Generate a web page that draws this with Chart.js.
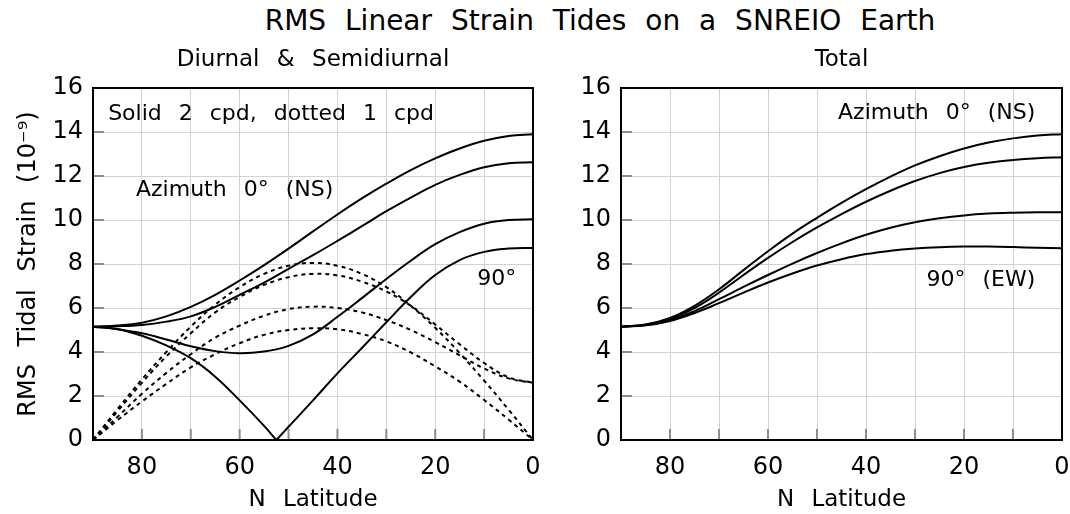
<!DOCTYPE html>
<html>
<head>
<meta charset="utf-8">
<script src="https://cdn.jsdelivr.net/npm/chart.js@4"></script>
<style>
  body { margin: 0; background: #fff; }
  #wrap { position: relative; width: 1070px; height: 514px; overflow: hidden; }
  #title { position: absolute; top: 4px; left: 130px; width: 940px; text-align: center;
           font-family: "DejaVu Sans"; font-size: 28px; word-spacing: 10px; color: #000; }
  canvas { position: absolute; top: 0; }
</style>
</head>
<body>
<div id="wrap">
  <div id="title">RMS Linear Strain Tides on a SNREIO Earth</div>
  <canvas id="left" width="560" height="514" style="left:0"></canvas>
  <canvas id="right" width="510" height="514" style="left:560px"></canvas>
</div>
<script>
// latitude grid (deg N)
const lat = [90, 85, 80, 75, 70, 65, 60, 55, 50, 45, 40, 35, 30, 25, 20, 15, 10, 5, 0];
const latV = [90, 85, 80, 75, 70, 65, 60, 55, 52.5, 50, 45, 40, 35, 30, 25, 20, 15, 10, 5, 0];

// semidiurnal (2 cpd), solid
const semi0 = [5.15, 5.2, 5.33, 5.62, 6.05, 6.6, 7.25, 7.95, 8.7, 9.48, 10.25, 10.98, 11.65, 12.27, 12.8, 13.25, 13.6, 13.82, 13.9];
const semi30 = [5.15, 5.17, 5.23, 5.38, 5.62, 6.05, 6.6, 7.15, 7.78, 8.4, 9.05, 9.72, 10.4, 11.02, 11.6, 12.05, 12.4, 12.58, 12.62];
const semi60 = [5.15, 5.03, 4.85, 4.57, 4.26, 4.04, 3.94, 4.02, 4.28, 4.8, 5.6, 6.45, 7.32, 8.15, 8.9, 9.45, 9.83, 10.0, 10.03];
const semi90 = [5.15, 5.05, 4.74, 4.3, 3.72, 2.88, 1.8, 0.64, 0, 0.6, 1.8, 3.03, 4.18, 5.35, 6.5, 7.5, 8.18, 8.55, 8.7, 8.73];

// diurnal (1 cpd), dotted
const diur90 = [0, 1.4, 2.75, 4.0, 5.15, 6.15, 6.95, 7.55, 7.92, 8.05, 7.92, 7.55, 6.95, 6.1, 5.1, 3.95, 2.7, 1.38, 0];
const diur60 = [0, 1.3, 2.6, 3.8, 4.85, 5.8, 6.5, 7.05, 7.4, 7.55, 7.48, 7.2, 6.75, 6.1, 5.25, 4.35, 3.5, 2.85, 2.6];
const diur30 = [0, 1.05, 2.1, 3.05, 3.9, 4.65, 5.2, 5.65, 5.95, 6.06, 6.0, 5.8, 5.45, 5.0, 4.45, 3.85, 3.25, 2.8, 2.6];
const diur0 = [0, 0.9, 1.75, 2.55, 3.3, 3.9, 4.4, 4.78, 5.0, 5.08, 5.03, 4.82, 4.48, 3.98, 3.35, 2.65, 1.82, 0.93, 0];

// total
const total0 = [5.15, 5.25, 5.55, 6.1, 6.85, 7.72, 8.58, 9.38, 10.1, 10.78, 11.4, 11.97, 12.48, 12.9, 13.25, 13.52, 13.71, 13.84, 13.9];
const total30 = [5.15, 5.24, 5.5, 6.0, 6.7, 7.5, 8.28, 9.0, 9.66, 10.27, 10.83, 11.33, 11.77, 12.13, 12.41, 12.6, 12.73, 12.81, 12.85];
const total60 = [5.15, 5.22, 5.44, 5.86, 6.4, 6.96, 7.5, 8.02, 8.5, 8.94, 9.33, 9.65, 9.9, 10.08, 10.21, 10.29, 10.33, 10.35, 10.35];
const total90 = [5.15, 5.21, 5.41, 5.77, 6.22, 6.7, 7.16, 7.57, 7.93, 8.22, 8.45, 8.6, 8.7, 8.76, 8.79, 8.79, 8.77, 8.74, 8.72];

const FONT = "DejaVu Sans";

function pts(xs, ys) {
  return xs.map((x, i) => ({ x: x, y: ys[i] }));
}

function line(data, dotted) {
  return {
    data: data,
    borderColor: "#000",
    borderWidth: 2,
    borderDash: dotted ? [4, 4] : [],
    pointRadius: 0,
    fill: false,
    tension: 0.4,
  };
}

// the 90 deg semidiurnal curve has a sharp zero; draw its two branches separately
const vIdx = semi90.indexOf(0);
const semi90pts = pts(latV, semi90);

// frame, inner tick marks, subtitle and in-plot labels
const decor = {
  id: "decor",
  beforeDraw(chart) {
    // wide word gaps like the original plotting font
    chart.ctx.wordSpacing = "10px";
  },
  beforeDatasetsDraw(chart) {
    const { ctx, chartArea: a, scales } = chart;
    ctx.save();
    ctx.strokeStyle = "#8c8c8c";
    ctx.lineWidth = 2;
    scales.y.ticks.forEach((t) => {
      const py = scales.y.getPixelForValue(t.value);
      ctx.beginPath();
      ctx.moveTo(a.left, py);
      ctx.lineTo(a.left + 11, py);
      ctx.stroke();
    });
    scales.x.ticks.forEach((t) => {
      const px = scales.x.getPixelForValue(t.value);
      ctx.beginPath();
      ctx.moveTo(px, a.bottom);
      ctx.lineTo(px, a.bottom - 11);
      ctx.stroke();
    });
    ctx.restore();
  },
  afterDraw(chart, args, opts) {
    const { ctx, chartArea: a, scales } = chart;
    ctx.save();
    ctx.strokeStyle = "#000";
    ctx.lineWidth = 2;
    ctx.strokeRect(a.left, a.top, a.right - a.left, a.bottom - a.top);
    ctx.fillStyle = "#000";
    ctx.wordSpacing = "10px";
    ctx.textBaseline = "middle";
    ctx.textAlign = "center";
    ctx.font = "23px '" + FONT + "'";
    ctx.fillText(opts.subtitle, (a.left + a.right) / 2, 60);
    ctx.font = "22px '" + FONT + "'";
    opts.labels.forEach((l) => {
      ctx.textAlign = l.align;
      ctx.fillText(l.text, scales.x.getPixelForValue(l.lat), scales.y.getPixelForValue(l.val));
    });
    ctx.restore();
  },
};

function options(yWidth, padRight, yTitle, subtitle, labels) {
  return {
    responsive: false,
    animation: false,
    layout: { padding: { top: 88, right: padRight, left: 0, bottom: 0 } },
    plugins: {
      legend: { display: false },
      tooltip: { enabled: false },
      decor: { subtitle: subtitle, labels: labels },
    },
    scales: {
      x: {
        type: "linear",
        min: 0,
        max: 90,
        reverse: true,
        afterFit: (s) => {
          s.height = 74;
          s.paddingLeft = 0;
          s.paddingRight = 0;
        },
        ticks: {
          stepSize: 10,
          padding: 13,
          color: "#000",
          maxRotation: 0,
          autoSkip: false,
          font: { family: FONT, size: 24 },
          callback: (v) => (v % 20 === 0 ? String(v) : ""),
        },
        grid: { color: "#d2d2d2", lineWidth: 1, drawTicks: false },
        border: { color: "#000", width: 2 },
        title: {
          display: true,
          text: "N Latitude",
          color: "#000",
          font: { family: FONT, size: 23 },
          padding: { top: 0, bottom: 0 },
        },
      },
      y: {
        type: "linear",
        min: 0,
        max: 16,
        afterFit: (s) => { s.width = yWidth; },
        ticks: {
          stepSize: 2,
          padding: 10,
          color: "#000",
          font: { family: FONT, size: 24 },
        },
        grid: { color: "#d2d2d2", lineWidth: 1, drawTicks: false },
        border: { color: "#000", width: 2 },
        title: {
          display: !!yTitle,
          text: yTitle,
          color: "#000",
          font: { family: FONT, size: 24 },
          padding: { top: 14, bottom: 0 },
        },
      },
    },
  };
}

new Chart(document.getElementById("left").getContext("2d"), {
  type: "line",
  data: {
    datasets: [
      line(pts(lat, semi0), false),
      line(pts(lat, semi30), false),
      line(pts(lat, semi60), false),
      line(semi90pts.slice(0, vIdx + 1), false),
      line(semi90pts.slice(vIdx), false),
      line(pts(lat, diur90), true),
      line(pts(lat, diur60), true),
      line(pts(lat, diur30), true),
      line(pts(lat, diur0), true),
    ],
  },
  options: options(93, 27, "RMS Tidal Strain (10\u207B\u2079)", "Diurnal & Semidiurnal", [
    { text: "Solid 2 cpd, dotted 1 cpd", lat: 86.9, val: 14.8, align: "left" },
    { text: "Azimuth 0\u00B0 (NS)", lat: 81.2, val: 11.36, align: "left" },
    { text: "90\u00B0", lat: 11.4, val: 7.3, align: "left" },
  ]),
  plugins: [decor],
});

new Chart(document.getElementById("right").getContext("2d"), {
  type: "line",
  data: {
    datasets: [
      line(pts(lat, total0), false),
      line(pts(lat, total30), false),
      line(pts(lat, total60), false),
      line(pts(lat, total90), false),
    ],
  },
  options: options(61, 8, "", "Total", [
    { text: "Azimuth 0\u00B0 (NS)", lat: 5.45, val: 14.86, align: "right" },
    { text: "90\u00B0 (EW)", lat: 5.45, val: 7.27, align: "right" },
  ]),
  plugins: [decor],
});
</script>
</body>
</html>
